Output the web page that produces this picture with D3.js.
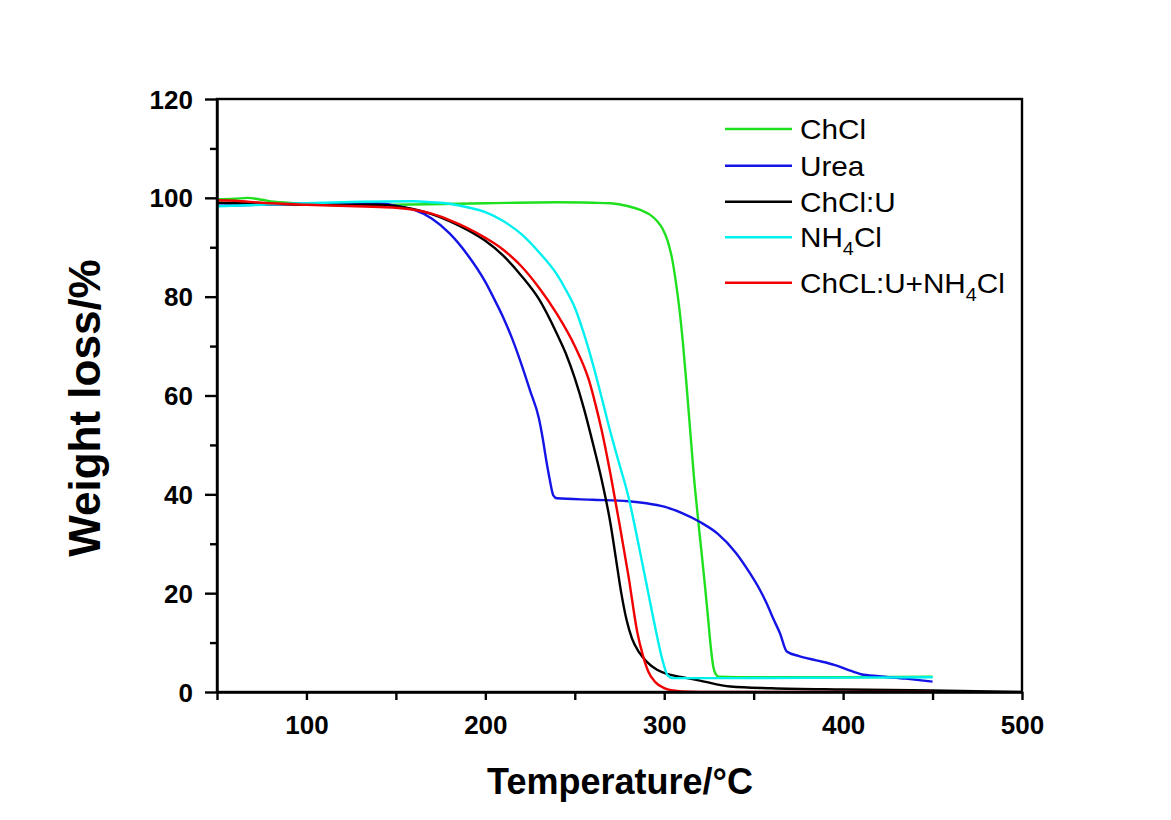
<!DOCTYPE html>
<html>
<head>
<meta charset="utf-8">
<script src="https://cdn.jsdelivr.net/npm/d3@7/dist/d3.min.js"></script>
<style>
html,body{margin:0;padding:0;background:#fff;}
svg{display:block;}
text{font-family:"Liberation Sans",Arial,sans-serif;}
</style>
</head>
<body>
<svg id="chart" width="1171" height="820"></svg>
<script>
// ---- data ----
const seriesNames = ["ChCl", "Urea", "ChCl:U", "NH4Cl", "ChCL:U+NH4Cl"];
const seriesColors = ["#1ee01e", "#1414e6", "#000000", "#00f0f0", "#f00000"];

const chclT = [50,60,67,75,82,100,120,150,200,240,260,270,280,287,292,296,299,302,304.5,306.5,308.5,310.5,312.5,314.5,316.5,318.5,320.5,322.5,324.5,326.2,327.5,328.8,330.5,340,400,450];
const chclW = [99.7,99.8,100.0,99.6,99.2,98.8,98.5,98.6,98.9,99.1,99.0,98.9,98.3,97.5,96.6,95.3,93.8,91.2,87.5,83,77.5,70.5,62,53,44,36.5,29.5,22.5,15,8.5,5,3.6,3.1,3.0,3.0,3.1];

const ureaT = [50,75,100,130,140,150,160,170,180,190,200,205,210,215,220,225,230,232,234,236,238,240,260,280,290,300,310,320,330,340,348,353,357.3,361,364.7,368.5,375,385,395,402,410,420,435,450];
const ureaW = [98.4,98.6,98.8,98.9,98.9,98.4,97.6,95.8,92.8,88.5,83,79.5,75.8,71.5,66.5,61,55.3,51.5,47,43,39.8,39.2,38.9,38.6,38.2,37.5,36.2,34.4,32,28.2,24,21,17.9,14.8,11.9,8.2,7.3,6.4,5.5,4.6,3.6,3.2,2.7,2.1];

const chclUT = [50,75,100,140,150,160,170,180,190,200,210,220,230,240,245,250,255,260,265,270,273,276,279,282,286,290,296,302,310,320,337,360,400,450,500];
const chclUW = [99.0,98.8,98.6,98.6,98.3,97.7,96.7,95.3,93.5,91.3,88.3,84.3,79.5,72.5,68.5,63.5,57.5,50.5,43,34,27,20,14.5,10.8,8,6.2,4.5,3.6,3.0,2.3,1.1,0.75,0.5,0.3,0];

const nh4clT = [50,75,100,130,160,170,180,190,200,210,220,230,240,245,250,255,260,265,270,275,280,285,290,295,299,302,305,320,400,450];
const nh4clW = [98.3,98.6,98.9,99.2,99.3,99.1,98.8,98.1,97.1,95.3,92.7,89.0,84.5,81.4,77.8,72.6,66.5,59.6,52.5,46,39.5,31,22,13,6.5,3.3,2.8,2.8,2.9,3.0];

const mixT = [50,60,75,100,137,150,160,170,180,190,200,210,220,230,240,250,258,261.5,265,270,275,280,285,288,291,295,300,305,310,320,450];
const mixW = [99.5,99.4,99.0,98.6,98.2,98.0,97.6,96.8,95.5,93.9,91.9,89.5,86.2,81.8,76.5,70.0,63,58.3,53,44,34,23.5,12,7.5,4.2,2,0.8,0.3,0.1,0,0];

const xTicks = [50,100,150,200,250,300,350,400,450,500];
const xTickLabels = ["100","200","300","400","500"];
const yTicks = [0,10,20,30,40,50,60,70,80,90,100,110,120];
const yTickLabels = ["0","20","40","60","80","100","120"];

const xTitle = "Temperature/°C";
const yTitle = "Weight loss/%";

// ---- layout ----
const svg = d3.select("#chart");
const L = 217, R = 1022, T = 99, B = 692;
const x = d3.scaleLinear().domain([50,500]).range([L,R]);
const y = d3.scaleLinear().domain([0,120]).range([B,T]);

const series = [
  {T: chclT, W: chclW},
  {T: ureaT, W: ureaW},
  {T: chclUT, W: chclUW},
  {T: nh4clT, W: nh4clW},
  {T: mixT, W: mixW}
];

const line = d3.line().x(d => x(d[0])).y(d => y(d[1])).curve(d3.curveMonotoneX);
svg.append("clipPath").attr("id","clip").append("rect")
  .attr("x",L).attr("y",T).attr("width",R-L).attr("height",B-T);

const g = svg.append("g").attr("clip-path","url(#clip)");
series.forEach((s,i) => {
  const pts = s.T.map((t,k) => [t, s.W[k]]);
  g.append("path").datum(pts)
    .attr("d", line)
    .attr("fill","none")
    .attr("stroke", seriesColors[i])
    .attr("stroke-width", 2.4)
    .attr("stroke-linejoin","round");
});

// frame
svg.append("rect").attr("x",L).attr("y",T).attr("width",R-L).attr("height",B-T)
  .attr("fill","none").attr("stroke","#000").attr("stroke-width",2.4);

// x axis
const xAxis = d3.axisBottom(x).tickValues(xTicks).tickSize(8).tickSizeOuter(0)
  .tickFormat(d => xTickLabels.includes(String(d)) ? String(d) : "");
const gx = svg.append("g").attr("transform",`translate(0,${B})`).call(xAxis);
gx.select(".domain").attr("stroke","#000").attr("stroke-width",2.4);
gx.selectAll(".tick line").attr("stroke","#000").attr("stroke-width",2.4);
gx.selectAll(".tick text").attr("font-family","'Liberation Sans',Arial,sans-serif")
  .attr("font-size",26).attr("font-weight","bold").attr("fill","#000").attr("y",24).attr("dy","0.71em");

// y axis
const yAxis = d3.axisLeft(y).tickValues(yTicks).tickSizeOuter(0)
  .tickSize(0)
  .tickFormat(d => yTickLabels.includes(String(d)) ? String(d) : "");
const gy = svg.append("g").attr("transform",`translate(${L},0)`).call(yAxis);
gy.select(".domain").attr("stroke","#000").attr("stroke-width",2.4);
gy.selectAll(".tick line")
  .attr("x2", d => (d % 20 === 0) ? -12 : -7)
  .attr("stroke","#000").attr("stroke-width",2.4);
gy.selectAll(".tick text").attr("font-family","'Liberation Sans',Arial,sans-serif")
  .attr("font-size",26).attr("font-weight","bold").attr("fill","#000")
  .attr("x",-24).attr("dy","0.35em");

// titles
svg.append("text").attr("x",620).attr("y",794).attr("text-anchor","middle")
  .attr("font-size",36).attr("font-weight","bold").text(xTitle);
svg.append("text").attr("transform","translate(100,408) rotate(-90)").attr("text-anchor","middle")
  .attr("font-size",44).attr("font-weight","bold").text(yTitle);

// legend
const legY = [129,165.7,201.7,237.3,282.7];
const legFont = 27;
seriesNames.forEach((name,i) => {
  svg.append("line").attr("x1",725).attr("x2",792).attr("y1",legY[i]).attr("y2",legY[i])
    .attr("stroke",seriesColors[i]).attr("stroke-width",2.4);
  const t = svg.append("text").attr("x",800).attr("y",legY[i]+10).attr("font-size",legFont).attr("fill","#000")
    .attr("transform",`translate(800,0) scale(1.1,1) translate(-800,0)`);
  const idx = name.indexOf("NH4");
  if (idx >= 0) {
    t.append("tspan").text(name.slice(0, idx+2));
    t.append("tspan").attr("font-size",18).attr("dy",8).text("4");
    t.append("tspan").attr("dy",-8).text(name.slice(idx+3));
  } else {
    t.text(name);
  }
});
</script>
</body>
</html>
